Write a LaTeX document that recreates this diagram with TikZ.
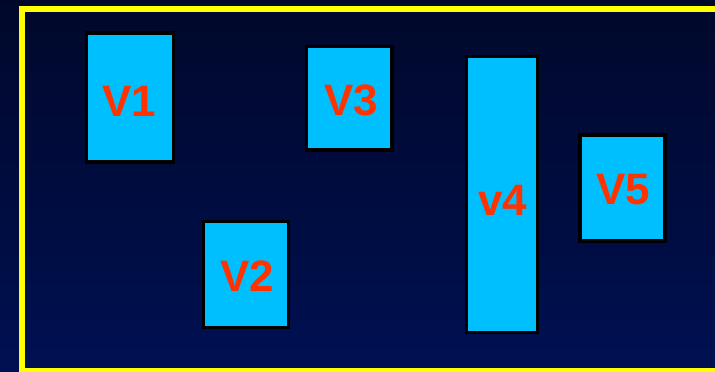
\documentclass[tikz,border=0pt]{standalone}
\usepackage{fontspec}
\setmainfont{Liberation Sans}
\definecolor{navytop}{RGB}{0,8,42}
\definecolor{navybot}{RGB}{0,16,82}
\definecolor{boxfill}{RGB}{0,191,255}
\definecolor{labelred}{RGB}{255,51,0}
\definecolor{frameyellow}{RGB}{255,255,0}
\begin{document}
\begin{tikzpicture}[x=1pt,y=-1pt,
  vbox/.style={draw=black,line width=3.5pt,fill=boxfill},
  vlabel/.style={text=labelred,font=\bfseries\fontsize{44}{44}\selectfont,inner sep=0pt,anchor=center}]
  % background
  \shade[top color=navytop,bottom color=navybot] (0,0) rectangle (715,372);
  \useasboundingbox (0,0) rectangle (715,372);
  % yellow frame, running off the right edge
  \draw[frameyellow,line width=6.5pt] (22,9) rectangle (730,371);
  % boxes
  \path[vbox] (86.5,33) rectangle (173.5,162) coordinate (b1);
  \path[vbox] (203.5,221.5) rectangle (288.5,327.5) coordinate (b2);
  \path[vbox] (306.5,46.5) rectangle (392,150) coordinate (b3);
  \path[vbox] (466.5,56.5) rectangle (537.5,332.5) coordinate (b4);
  \path[vbox] (580,135) rectangle (665,241) coordinate (b5);
  % labels
  \node[vlabel] (t1) at (129,101) {V1};
  \node[vlabel] (t2) at (247.5,276.5) {V2};
  \node[vlabel] (t3) at (351.5,100.5) {V3};
  \node[vlabel] (t4) at (502.5,200.5) {v4};
  \node[vlabel] (t5) at (623.5,189.5) {V5};
\end{tikzpicture}
\end{document}
